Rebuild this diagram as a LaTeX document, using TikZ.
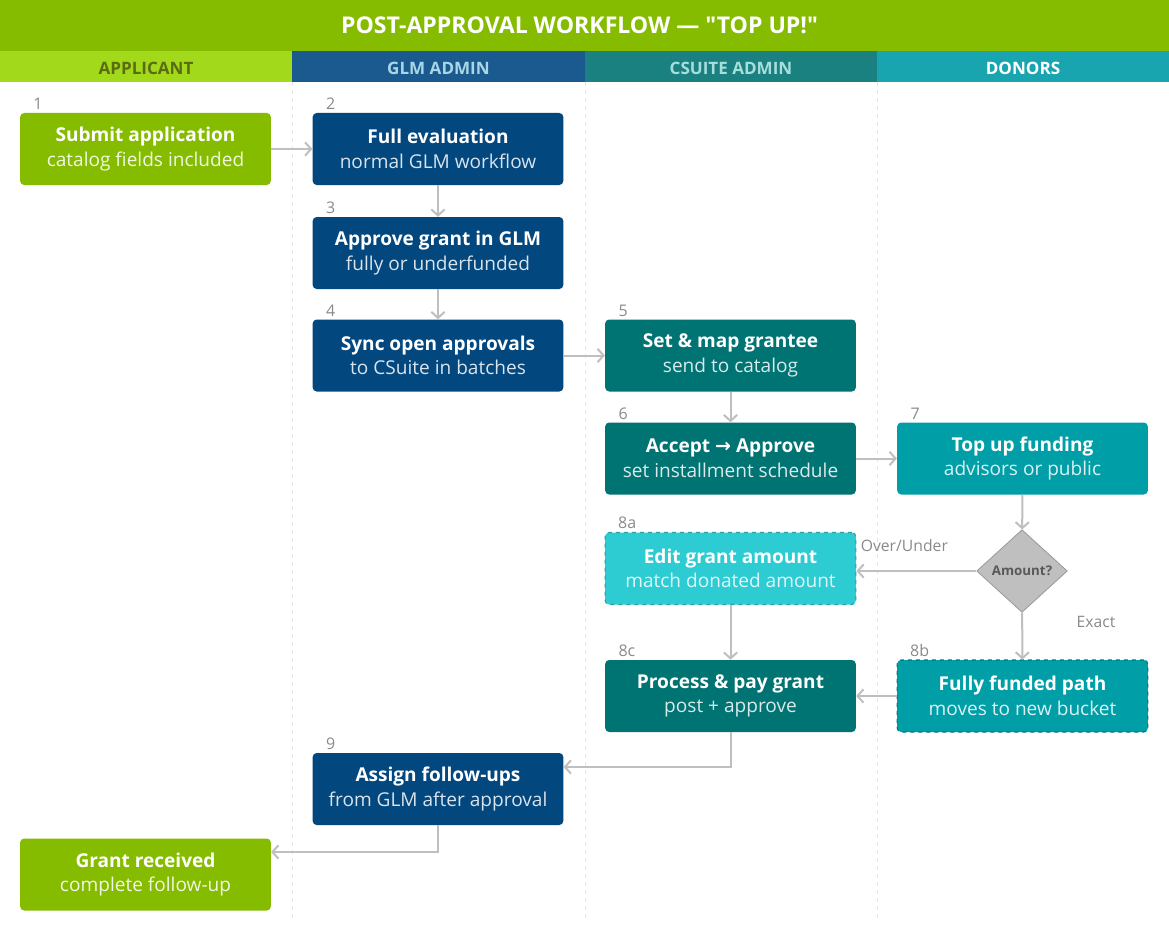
\documentclass[tikz,border=0pt]{standalone}
\usepackage{fontspec}
\setmainfont{Open Sans}[Ligatures=TeXOff]
\newfontfamily\symfont{DejaVu Sans}
\usetikzlibrary{positioning,shapes.geometric,arrows.meta}

\definecolor{barGreen}{HTML}{86BC00}
\definecolor{hdApplicant}{HTML}{A2D91A}
\definecolor{hdApplicantTxt}{HTML}{5B6B12}
\definecolor{hdGlm}{HTML}{1B5A8E}
\definecolor{hdGlmTxt}{HTML}{A9D6E5}
\definecolor{hdCsuite}{HTML}{1A8080}
\definecolor{hdCsuiteTxt}{HTML}{A6DEDC}
\definecolor{hdDonors}{HTML}{18A5B0}
\definecolor{boxGreen}{HTML}{86BC00}
\definecolor{boxNavy}{HTML}{03477F}
\definecolor{boxDark}{HTML}{007373}
\definecolor{boxTeal}{HTML}{009FA8}
\definecolor{boxCyan}{HTML}{2DCCD3}
\definecolor{flowGrey}{HTML}{BFBFBF}
\definecolor{numGrey}{HTML}{8A8A8A}
\definecolor{laneLine}{HTML}{E6E6E6}

\tikzset{
  stepbox/.style={rectangle, rounded corners=3pt, minimum width=188pt,
    minimum height=54pt, align=center, text=white, inner sep=2pt,
    font=\fontsize{14.3}{18.5}\selectfont},
  tentative/.style={stepbox, dashed, line width=0.8pt},
  steplabel/.style={inner sep=0pt, text=numGrey, font=\fontsize{12}{14}\selectfont},
  flow/.style={draw=flowGrey, line width=1.5pt, -{Straight Barb[length=4.5pt,width=10pt]}},
  branch/.style={inner sep=0pt, text=numGrey, font=\fontsize{11.8}{14}\selectfont},
  lanehead/.style={font=\bfseries\fontsize{12.8}{15}\selectfont},
  lanesep/.style={draw=laneLine, dashed, line width=0.6pt}
}

\newcommand{\sub}[2]{{\color{#1}#2}}

\begin{document}
\begin{tikzpicture}[x=0.75pt, y=-0.75pt]
  \useasboundingbox (0,0) rectangle (1169,945);
  \fill[white] (0,0) rectangle (1169,945);

  % --- title bar ---
  \fill[barGreen] (0,0) rectangle (1169,51);
  \node[text=white, font=\bfseries\fontsize{17.3}{20}\selectfont] (title) at (579.5,25)
    {POST-APPROVAL WORKFLOW — "TOP UP!"};

  % --- lane headers ---
  \fill[hdApplicant] (0,51) rectangle (292,82);
  \fill[hdGlm] (292,51) rectangle (585,82);
  \fill[hdCsuite] (585,51) rectangle (877,82);
  \fill[hdDonors] (877,51) rectangle (1169,82);
  \node[lanehead, text=hdApplicantTxt] (hApp) at (146,68) {APPLICANT};
  \node[lanehead, text=hdGlmTxt] (hGlm) at (438.5,68) {GLM ADMIN};
  \node[lanehead, text=hdCsuiteTxt] (hCs) at (731,68) {CSUITE ADMIN};
  \node[lanehead, text=white] (hDon) at (1023,68) {DONORS};

  % --- lane separators ---
  \draw[lanesep] (292,82) -- (292,922);
  \draw[lanesep] (585,82) -- (585,922);
  \draw[lanesep] (877,82) -- (877,922);

  % --- applicant ---
  \node[stepbox, fill=boxGreen] (submit) at (145.5,149)
    {\textbf{Submit application}\\\sub{white!88!boxGreen}{catalog fields included}};
  \node[stepbox, fill=boxGreen] (received) at (145.5,874.5)
    {\textbf{Grant received}\\\sub{white!88!boxGreen}{complete follow-up}};

  % --- glm admin ---
  \node[stepbox, fill=boxNavy] (evaluate) at (438,149)
    {\textbf{Full evaluation}\\\sub{white!85!boxNavy}{normal GLM workflow}};
  \node[stepbox, fill=boxNavy] (approve) at (438,253)
    {\textbf{Approve grant in GLM}\\\sub{white!85!boxNavy}{fully or underfunded}};
  \node[stepbox, fill=boxNavy] (sync) at (438,355.5)
    {\textbf{Sync open approvals}\\\sub{white!85!boxNavy}{to CSuite in batches}};
  \node[stepbox, fill=boxNavy] (followup) at (438,789)
    {\textbf{Assign follow-ups}\\\sub{white!85!boxNavy}{from GLM after approval}};

  % --- csuite admin ---
  \node[stepbox, fill=boxDark] (mapping) at (730.5,355.5)
    {\textbf{Set \& map grantee}\\\sub{white!85!boxDark}{send to catalog}};
  \node[stepbox, fill=boxDark] (accept) at (730.5,458.5)
    {\textbf{Accept {\symfont →} Approve}\\\sub{white!85!boxDark}{set installment schedule}};
  \node[tentative, fill=boxCyan, draw=boxCyan!80!black] (edit) at (730.5,568.5)
    {\textbf{Edit grant amount}\\\sub{white!85!boxCyan}{match donated amount}};
  \node[stepbox, fill=boxDark] (pay) at (730.5,696)
    {\textbf{Process \& pay grant}\\\sub{white!85!boxDark}{post + approve}};

  % --- donors ---
  \node[stepbox, fill=boxTeal] (topup) at (1022.5,458.5)
    {\textbf{Top up funding}\\\sub{white!85!boxTeal}{advisors or public}};
  \node[diamond, fill=flowGrey, draw=flowGrey!80!black, line width=0.6pt,
    minimum width=68pt, minimum height=62pt, inner sep=0pt, text=black!65,
    font=\bfseries\fontsize{10}{12}\selectfont] (amount) at (1022,571) {Amount?};
  \node[tentative, fill=boxTeal, draw=boxTeal!75!black] (funded) at (1022.5,696)
    {\textbf{Fully funded path}\\\sub{white!85!boxTeal}{moves to new bucket}};

  % --- step numbers ---
  \node[steplabel, above right=2pt and 10pt of submit.north west] (n1) {1};
  \node[steplabel, above right=2pt and 10pt of evaluate.north west] (n2) {2};
  \node[steplabel, above right=2pt and 10pt of approve.north west] (n3) {3};
  \node[steplabel, above right=2pt and 10pt of sync.north west] (n4) {4};
  \node[steplabel, above right=2pt and 10pt of mapping.north west] (n5) {5};
  \node[steplabel, above right=2pt and 10pt of accept.north west] (n6) {6};
  \node[steplabel, above right=2pt and 10pt of topup.north west] (n7) {7};
  \node[steplabel, above right=2pt and 10pt of edit.north west] (n8a) {8a};
  \node[steplabel, above right=2pt and 10pt of funded.north west] (n8b) {8b};
  \node[steplabel, above right=2pt and 10pt of pay.north west] (n8c) {8c};
  \node[steplabel, above right=2pt and 10pt of followup.north west] (n9) {9};

  % --- connectors ---
  \draw[flow] (submit) -- (evaluate);
  \draw[flow] (evaluate) -- (approve);
  \draw[flow] (approve) -- (sync);
  \draw[flow] (sync) -- (mapping);
  \draw[flow] (mapping) -- (accept);
  \draw[flow] (accept) -- (topup);
  \draw[flow] (topup) -- (amount);
  \draw[flow] (amount.west) -- (edit.east |- amount.west)
    node[branch, pos=0.6, above=14pt] (lOver) {Over/Under};
  \draw[flow] (amount) -- (funded)
    node[branch, pos=0.2, right=40pt] (lExact) {Exact};
  \draw[flow] (edit) -- (pay);
  \draw[flow] (funded) -- (pay);

  \coordinate (payTurn) at (730.5,767);
  \draw[flow] (pay.south) -- (payTurn) -- (followup.east |- payTurn);
  \coordinate (fuTurn) at (438,852);
  \draw[flow] (followup.south) -- (fuTurn) -- (received.east |- fuTurn);

\end{tikzpicture}
\end{document}
